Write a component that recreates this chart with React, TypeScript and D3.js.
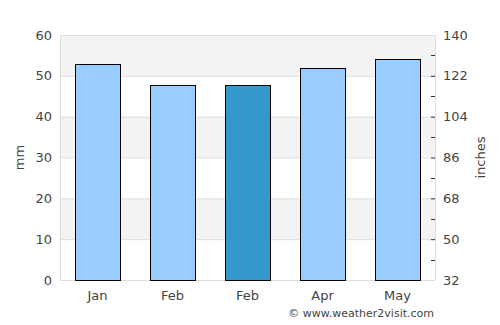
import React from "react";
import * as d3 from "d3";

const months = ["Jan", "Feb", "Feb", "Apr", "May"];
const rainfall = [52.8, 47.7, 47.7, 51.8, 54.0];
const highlighted = [false, false, true, false, false];
const leftTicks = [0, 10, 20, 30, 40, 50, 60];
const rightTickLabels = ["32", "50", "68", "86", "104", "122", "140"];

const W = 500, H = 325;
const M = { left: 60, right: 435, top: 35, bottom: 280 };

export default function App() {
  const x = d3.scaleBand<number>().domain(d3.range(months.length)).range([M.left, M.right]).paddingInner(0.4).paddingOuter(0.2);
  const y = d3.scaleLinear().domain([0, 60]).range([M.bottom, M.top]);
  const minor = d3.range(5, 60, 10);
  const font = "DejaVu Sans, sans-serif";
  const txt = "#444";
  return (
    <svg width={W} height={H} style={{ position: "absolute", left: 0, top: 0 }} fontFamily={font}>
      <rect x={0} y={0} width={W} height={H} fill="#fff" />
      {leftTicks.slice(0, -1).map((t) => (
        <rect key={"band" + t} x={M.left} y={y(t + 10)} width={M.right - M.left} height={y(t) - y(t + 10)}
          fill={(t / 10) % 2 === 1 ? "#f3f3f3" : "#fff"} />
      ))}
      {leftTicks.map((t) => (
        <line key={"g" + t} x1={M.left} x2={M.right} y1={y(t) + 0.5} y2={y(t) + 0.5} stroke="#ddd" />
      ))}
      <line x1={M.left + 0.5} x2={M.left + 0.5} y1={M.top} y2={M.bottom} stroke="#ddd" />
      <line x1={M.right + 0.5} x2={M.right + 0.5} y1={M.top} y2={M.bottom} stroke="#ddd" />
      {rainfall.map((v, i) => (
        <rect key={"b" + i} x={Math.round(x(i)!) + 0.5} y={Math.round(y(v)) + 0.5} width={Math.round(x.bandwidth())}
          height={Math.round(y(0) - y(v))} fill={highlighted[i] ? "#3399cc" : "#99ccff"} stroke="#000" strokeWidth={1} />
      ))}
      {leftTicks.map((t) => (
        <text key={"l" + t} x={52} y={y(t) + 4.5} textAnchor="end" fontSize={13} fill={txt}>{t}</text>
      ))}
      {leftTicks.map((t, i) => (
        <g key={"r" + t}>
          {t > 0 && t < 60 ? (
            <line x1={431} x2={435} y1={y(t) + 0.5} y2={y(t) + 0.5} stroke="#333" />
          ) : null}
          <text x={443} y={y(t) + 4.5} fontSize={13} fill={txt}>{rightTickLabels[i]}</text>
        </g>
      ))}
      {minor.map((t) => (
        <line key={"m" + t} x1={431} x2={435} y1={Math.round(y(t)) + 0.5} y2={Math.round(y(t)) + 0.5} stroke="#333" />
      ))}
      {months.map((m, i) => (
        <text key={"x" + i} x={x(i)! + x.bandwidth() / 2} y={300} textAnchor="middle" fontSize={13} fill={txt}>{m}</text>
      ))}
      <text transform={`translate(24,${(M.top + M.bottom) / 2}) rotate(-90)`} textAnchor="middle" fontSize={13} fill={txt}>mm</text>
      <text transform={`translate(485,${(M.top + M.bottom) / 2}) rotate(-90)`} textAnchor="middle" fontSize={13} fill={txt}>inches</text>
      <text x={434} y={317} textAnchor="end" fontSize={11} fill={txt}>© www.weather2visit.com</text>
    </svg>
  );
}
